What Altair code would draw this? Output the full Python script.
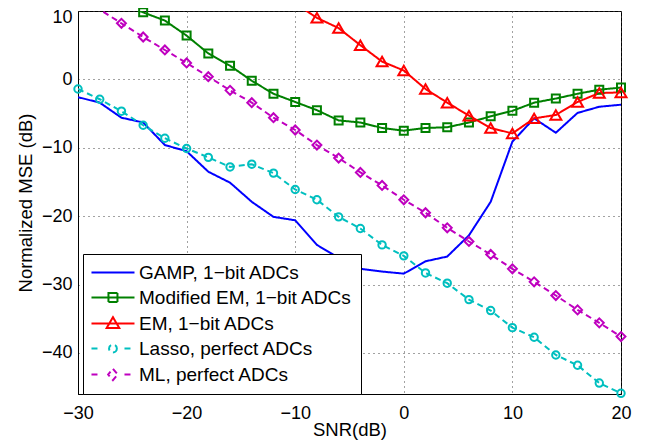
import altair as alt
import pandas as pd

snr = list(range(-30, 21, 2))

names = [
    "GAMP, 1\u2212bit ADCs",
    "Modified EM, 1\u2212bit ADCs",
    "EM, 1\u2212bit ADCs",
    "Lasso, perfect ADCs",
    "ML, perfect ADCs",
]

gamp = [-2.6, -3.4, -5.6, -6.3, -9.6, -10.5, -13.5, -15.1, -17.9, -20.1, -20.6,
        -24.2, -26.1, -27.7, -28.1, -28.4, -26.6, -25.9, -22.8, -17.9, -9.1,
        -5.7, -7.8, -4.9, -4.0, -3.7]
mod_em = [14.0, 12.5, 11.0, 9.8, 8.6, 6.4, 3.8, 2.0, -0.2, -2.1, -3.3, -4.5,
          -6.0, -6.3, -7.1, -7.5, -7.1, -7.0, -6.3, -5.4, -4.6, -3.4, -2.8,
          -2.1, -1.5, -1.2]
em = [None] * 9 + [13.2, 11.1, 9.0, 7.5, 5.0, 2.6, 1.3, -1.4, -3.4, -5.3, -7.1,
                   -7.9, -5.7, -5.2, -3.3, -2.0, -1.9]
lasso = [-1.4, -2.9, -4.65, -6.7, -8.6, -10.1, -11.4, -12.8, -12.4, -13.7,
         -16.1, -17.6, -20.1, -21.8, -24.2, -25.8, -28.3, -29.8, -32.2, -33.8,
         -36.3, -37.7, -40.3, -41.8, -44.4, -45.9]
ml = [12.2, 10.2, 8.2, 6.2, 4.3, 2.4, 0.4, -1.6, -3.4, -5.6, -7.4, -9.6,
      -11.5, -13.6, -15.5, -17.6, -19.5, -21.7, -23.7, -25.6, -27.7, -29.6,
      -31.6, -33.7, -35.6, -37.6]

x_ticks = [-30, -20, -10, 0, 10, 20]
y_ticks = [-40, -30, -20, -10, 0, 10]

rows = []
for name, vals in zip(names, [gamp, mod_em, em, lasso, ml]):
    for s, v in zip(snr, vals):
        if v is not None:
            rows.append({"snr": s, "mse": v, "series": name})
df = pd.DataFrame(rows)

colors = ["#0000FF", "#008000", "#FF0000", "#00BFBF", "#BF00BF"]
color_scale = alt.Scale(domain=names, range=colors)
font = "Liberation Sans"

marker_shapes = [None, "square", "triangle-up", "circle", "diamond"]
marker_sizes = [None, 64, 120, 55, 80]

legend_paths = [
    "M-1.67,0H5.5",
    "M-1.67,0H5.5M1.16,-0.75H2.66V0.75H1.16Z",
    "M-1.67,0H5.5M1.91,-1.05L2.96,0.75H0.86Z",
    "M-1.67,0H0M3.83,0H5.5M2.56,0A0.65,0.65 0 1,1 1.26,0A0.65,0.65 0 1,1 2.56,0Z",
    "M-1.67,0H0M3.83,0H5.5M1.91,-0.95L2.71,0L1.91,0.95L1.11,0Z",
]

x_enc = alt.X("snr:Q", scale=alt.Scale(domain=[-30, 20], nice=False),
              axis=alt.Axis(values=x_ticks, title="SNR(dB)", format="d", labelFlush=False))
y_enc = alt.Y("mse:Q", scale=alt.Scale(domain=[-46, 10], nice=False),
              axis=alt.Axis(values=y_ticks, title="Normalized MSE (dB)", format="d",
                            labelFlush=False,
                            labelOffset={"condition": {"test": "datum.value === 10", "value": 6},
                                         "value": 0}))

base = alt.Chart(df)

leg = alt.Legend(
    title=None, orient="none", legendX=5, legendY=243, direction="vertical",
    fillColor="white", strokeColor="black", padding=9,
    symbolSize=144, symbolStrokeWidth=2, symbolFillColor="transparent",
    symbolOpacity=1,
    labelFont=font, labelFontSize=19, labelColor="black", labelOffset=28,
    labelLimit=0, rowPadding=5,
)

legend_layer = base.mark_point(
    filled=False, strokeWidth=2, opacity=0
).encode(
    x=x_enc, y=y_enc,
    color=alt.Color("series:N", scale=color_scale, legend=leg),
    shape=alt.Shape("series:N", scale=alt.Scale(domain=names, range=legend_paths), legend=leg),
)

lines = base.mark_line(clip=True, strokeWidth=2).encode(
    x=x_enc, y=y_enc,
    color=alt.Color("series:N", scale=color_scale, legend=None),
    strokeDash=alt.StrokeDash("series:N", scale=alt.Scale(
        domain=names, range=[[1, 0], [1, 0], [1, 0], [6, 4], [6, 4]]), legend=None),
    detail="series:N",
)

point_layers = []
for i in range(1, 5):
    point_layers.append(
        base.transform_filter(
            "datum.series === '" + names[i] + "' && datum.mse <= 10"
        ).mark_point(
            shape=marker_shapes[i], size=marker_sizes[i], filled=False,
            strokeWidth=2, color=colors[i], opacity=1
        ).encode(x=x_enc, y=y_enc)
    )

chart = alt.layer(legend_layer, lines, *point_layers).properties(
    width=543, height=383,
    autosize=alt.AutoSizeParams(type="none"),
    padding={"left": 70, "top": 3, "right": 16, "bottom": 52},
).configure_axis(
    labelFont=font, labelFontSize=18, labelColor="black",
    titleFont=font, titleFontSize=18.5, titleFontWeight="normal", titleColor="black",
    domainColor="black", domainWidth=1, ticks=False,
    grid=True, gridColor="#444444", gridDash=[1, 4], gridWidth=1, gridOpacity=1,
    labelPadding=6,
).configure_axisX(titlePadding=-2, labelPadding=10).configure_axisY(titlePadding=6).configure_view(
    stroke="black", strokeWidth=1
)

chart.save("out.html", embed_options={"renderer": "svg", "actions": False})
